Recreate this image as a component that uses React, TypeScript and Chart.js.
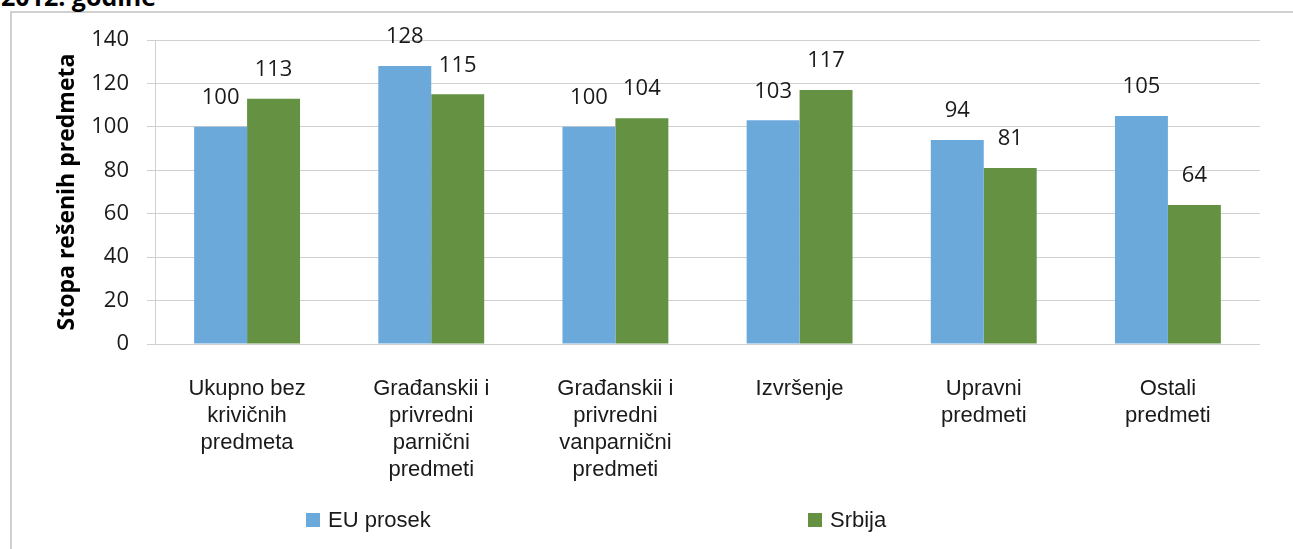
import React, { useEffect, useRef } from "react";
import { Chart, registerables } from "chart.js";

Chart.register(...registerables);

const categories: string[][] = [
  ["Ukupno bez", "krivičnih", "predmeta"],
  ["Građanskii i", "privredni", "parnični", "predmeti"],
  ["Građanskii i", "privredni", "vanparnični", "predmeti"],
  ["Izvršenje"],
  ["Upravni", "predmeti"],
  ["Ostali", "predmeti"],
];
const euProsek: number[] = [100, 128, 100, 103, 94, 105];
const srbija: number[] = [113, 115, 104, 117, 81, 64];
const seriesNames: string[] = ["EU prosek", "Srbija"];
const yTicks: number[] = [0, 20, 40, 60, 80, 100, 120, 140];
const yTitle = "Stopa rešenih predmeta";
const heading = "2012. godine";

const BLUE = "#6CA9DB";
const GREEN = "#659142";
const GRID = "#d0d0d0";

const valueLabels = {
  id: "valueLabels",
  afterDatasetsDraw(chart: any) {
    const ctx = chart.ctx;
    ctx.save();
    ctx.font = '22px "Open Sans"';
    ctx.fillStyle = "#1a1a1a";
    ctx.textAlign = "center";
    ctx.textBaseline = "middle";
    chart.data.datasets.forEach((ds: any, i: number) => {
      const meta = chart.getDatasetMeta(i);
      meta.data.forEach((bar: any, j: number) => {
        ctx.fillText(String(ds.data[j]), bar.x, bar.y - 29);
      });
    });
    ctx.restore();
  },
};

const customLegend = {
  id: "customLegend",
  afterDraw(chart: any) {
    const ctx = chart.ctx;
    const xs = [306, 808];
    ctx.save();
    ctx.font = '22px "Liberation Sans"';
    ctx.textBaseline = "middle";
    ctx.textAlign = "left";
    chart.data.datasets.forEach((ds: any, i: number) => {
      const x = xs[i];
      ctx.fillStyle = ds.backgroundColor;
      ctx.fillRect(x, 513, 14, 14);
      ctx.fillStyle = "#1a1a1a";
      ctx.fillText(ds.label, x + 22, 521);
    });
    ctx.restore();
  },
};

function ChartView() {
  const ref = useRef<HTMLCanvasElement | null>(null);
  useEffect(() => {
    if (!ref.current) return;
    const chart = new Chart(ref.current, {
      type: "bar",
      data: {
        labels: categories,
        datasets: [
          { label: seriesNames[0], data: euProsek, backgroundColor: BLUE },
          { label: seriesNames[1], data: srbija, backgroundColor: GREEN },
        ],
      },
      options: {
        responsive: false,
        animation: false,
        maintainAspectRatio: false,
        layout: { padding: { left: 54, right: 33, top: 40, bottom: 0 } },
        datasets: {
          bar: { categoryPercentage: 0.575, barPercentage: 1 },
        },
        plugins: {
          legend: { display: false },
          tooltip: { enabled: false },
          title: { display: false },
        },
        scales: {
          x: {
            grid: { display: false, drawTicks: false },
            border: { display: false },
            ticks: {
              padding: 31,
              color: "#1a1a1a",
              font: { family: "Liberation Sans", size: 22, lineHeight: 27 / 22 },
              maxRotation: 0,
              autoSkip: false,
            },
            afterFit(scale: any) {
              scale.height = 205;
            },
          },
          y: {
            min: 0,
            max: 140,
            afterBuildTicks(scale: any) {
              scale.ticks = yTicks.map((v) => ({ value: v }));
            },
            grid: { color: GRID, lineWidth: 1, tickLength: 8, drawTicks: true },
            border: { display: true, color: GRID, width: 1 },
            ticks: {
              padding: 18,
              color: "#1a1a1a",
              font: { family: "Open Sans", size: 22 },
            },
            title: {
              display: true,
              text: yTitle,
              color: "#000",
              padding: { top: 0, bottom: 0 },
              font: { family: "Open Sans", size: 23, weight: "bold" },
            },
            afterFit(scale: any) {
              scale.width = 101;
            },
          },
        },
      },
      plugins: [valueLabels, customLegend],
    } as any);
    return () => chart.destroy();
  }, []);
  return (
    <canvas
      ref={ref}
      width={1293}
      height={549}
      style={{ position: "absolute", left: 0, top: 0, width: 1293, height: 549 }}
    />
  );
}

export default function App() {
  return (
    <div
      style={{
        position: "fixed",
        left: 0,
        top: 0,
        width: 1293,
        height: 549,
        overflow: "hidden",
        background: "#fff",
      }}
    >
      <div
        style={{
          position: "absolute",
          left: 10,
          top: 11,
          width: 1400,
          height: 700,
          border: "2px solid #d0d0d0",
        }}
      />
      <div
        style={{
          position: "absolute",
          left: 1,
          top: -21,
          font: 'bold 25px "Open Sans"',
          lineHeight: "34px",
          color: "#000",
          whiteSpace: "nowrap",
        }}
      >
        {heading}
      </div>
      <ChartView />
    </div>
  );
}
